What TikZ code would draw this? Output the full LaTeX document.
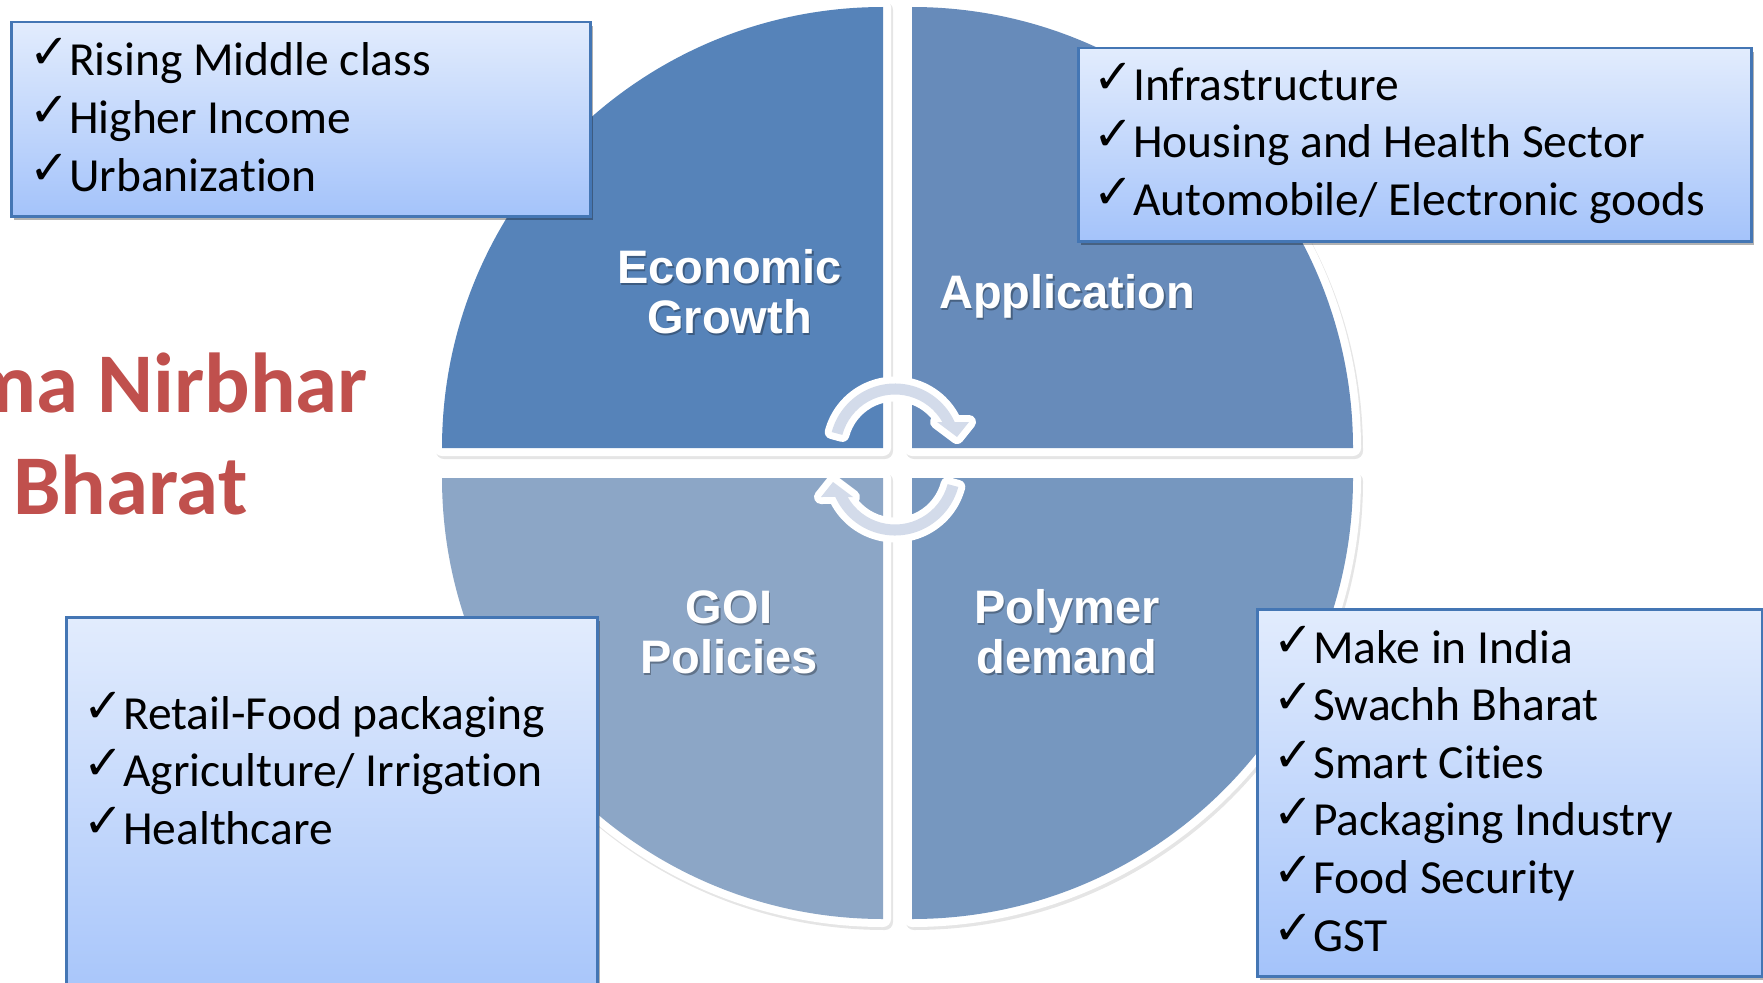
\documentclass[tikz,border=0pt]{standalone}
\usepackage{fontspec}
\setmainfont{Carlito}[Ligatures=NoCommon]
\newfontfamily\labfont{Liberation Sans}
\newfontfamily\chkfont{DejaVu Sans}
\usetikzlibrary{shadows}
\definecolor{qTL}{RGB}{86,131,185}
\definecolor{qTR}{RGB}{103,139,186}
\definecolor{qBL}{RGB}{140,166,198}
\definecolor{qBR}{RGB}{118,151,191}
\definecolor{boxtop}{RGB}{226,236,253}
\definecolor{boxbot}{RGB}{164,195,250}
\definecolor{boxborder}{RGB}{68,118,180}
\definecolor{arrowfill}{RGB}{211,219,234}
\definecolor{atmared}{RGB}{192,80,77}
\newcommand{\chk}{\makebox[36pt][l]{\hspace{-4pt}\raisebox{7pt}{\chkfont\bfseries\fontsize{48}{48}\selectfont ✓}}}
\tikzset{
  quadshadow/.style={fill=black, draw=black, line width=16pt, line join=round, opacity=0.10},
  quadwhite/.style={fill=white, draw=white, line width=16pt, line join=round},
  box/.style={draw=boxborder, line width=2.5pt, top color=boxtop, bottom color=boxbot,
    inner sep=0pt, anchor=north west,
    drop shadow={shadow xshift=3pt, shadow yshift=-4pt, opacity=0.3, fill=black}},
  item/.style={anchor=base west, inner sep=0pt, font=\fontsize{47.5}{57.5}\selectfont},
  qlabel/.style={anchor=base, inner sep=0pt, text=white, font=\labfont\bfseries\fontsize{47}{50}\selectfont},
  qshade/.style={anchor=base, inner sep=0pt, text=black, opacity=0.3, font=\labfont\bfseries\fontsize{47}{50}\selectfont},
  cyclearrow/.style={preaction={draw=white, line width=14pt, line join=round}, fill=arrowfill},
  atma/.style={inner sep=0pt, text=atmared, font=\bfseries\fontsize{85}{101}\selectfont}
}
\begin{document}
\begin{tikzpicture}[x=1pt,y=1pt]
\useasboundingbox (0,0) rectangle (1763,-982);
\clip (0,0) rectangle (1763,-982);
\fill[white] (0,0) rectangle (1763,-982);

% quadrants: shadow, white rim, colour
\foreach \cx/\cy/\a/\b in {883/448/180/90, 912/448/0/90, 883/478/180/270, 912/478/0/-90}
  \path[quadshadow] (\cx+2,-\cy-3) -- ++(\a:441) arc[start angle=\a, end angle=\b, radius=441] -- cycle;
\foreach \cx/\cy/\a/\b in {883/448/180/90, 912/448/0/90, 883/478/180/270, 912/478/0/-90}
  \path[quadwhite] (\cx,-\cy) -- ++(\a:441) arc[start angle=\a, end angle=\b, radius=441] -- cycle;
\foreach \cx/\cy/\a/\b/\col in {883/448/180/90/qTL, 912/448/0/90/qTR, 883/478/180/270/qBL, 912/478/0/-90/qBR}
  \fill[\col] (\cx,-\cy) -- ++(\a:441) arc[start angle=\a, end angle=\b, radius=441] -- cycle;

% central cycle arrows
\begin{scope}[shift={(895,-449)}]
  \path[cyclearrow] (165:65.5) arc[start angle=165, end angle=24.3, radius=65.5]
    -- (74,27) -- (62,12) -- (42,27) -- (29.7:54.5) arc[start angle=29.7, end angle=165, radius=54.5] -- cycle;
\end{scope}
\begin{scope}[shift={(895,-470)}]
  \path[cyclearrow] (345:65.5) arc[start angle=345, end angle=204.3, radius=65.5]
    -- (-74,-27) -- (-62,-12) -- (-42,-27) -- (209.7:54.5) arc[start angle=209.7, end angle=345, radius=54.5] -- cycle;
\end{scope}

% quadrant labels
\foreach \n/\x/\y/\t in {eg1/729.5/283/Economic, eg2/729.5/333/Growth, ap/1067/308/Application,
                         gp1/729/623/GOI, gp2/729/673/Policies, pd1/1067/623/Polymer, pd2/1067/673/demand}{
  \node[qshade] (\n s) at (\x+1.5,-\y-2) {\t};
  \node[qlabel] (\n) at (\x,-\y) {\t};
}

% boxes
\node[box, minimum width=579pt, minimum height=194pt] (box1) at (10,-21) {};
\node[box, minimum width=673pt, minimum height=193pt] (box2) at (1077,-47) {};
\node[box, minimum width=531pt, minimum height=400pt] (box3) at (65,-616) {};
\node[box, minimum width=505pt, minimum height=367pt] (box4) at (1256,-608) {};

\foreach \t [count=\i] in {Rising Middle class, Higher Income, Urbanization}
  \node[item] (b1-\i) at (33,{-75-58*(\i-1)}) {\chk\t};
\foreach \t [count=\i] in {Infrastructure, Housing and Health Sector, Automobile/ Electronic goods}
  \node[item] (b2-\i) at (1097,{-100-57.5*(\i-1)}) {\chk\t};
\foreach \t [count=\i] in {Retail-Food packaging, Agriculture/ Irrigation, Healthcare}
  \node[item] (b3-\i) at (87,{-729-57.5*(\i-1)}) {\chk\t};
\foreach \t [count=\i] in {Make in India, Swachh Bharat, Smart Cities, Packaging Industry, Food Security, GST}
  \node[item] (b4-\i) at (1277,{-663-57.6*(\i-1)}) {\chk\t};

% title
\node[atma, anchor=base east] (atma1) at (368,-412) {Atma Nirbhar};
\node[atma, anchor=base west] (atma2) at (13,-514) {Bharat};
\end{tikzpicture}
\end{document}
